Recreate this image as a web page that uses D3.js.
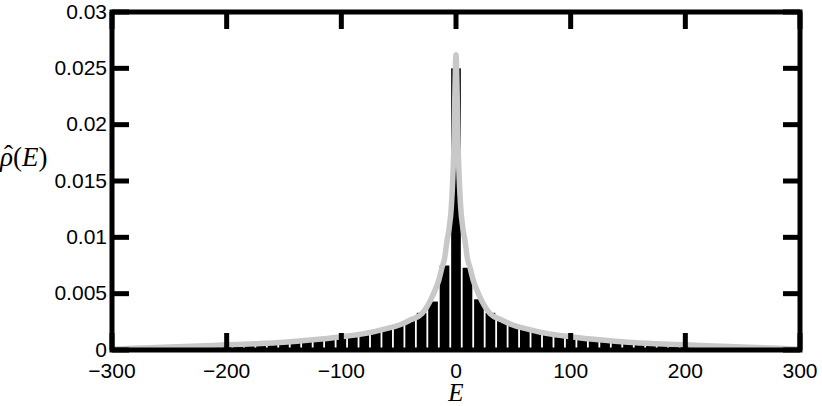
<!DOCTYPE html>
<html>
<head>
<meta charset="utf-8">
<script src="https://cdn.jsdelivr.net/npm/d3@7"></script>
<style>
  body { margin: 0; background: #fff; }
  svg { display: block; }
  .tick-label { font-family: "Liberation Sans", Arial, sans-serif; font-size: 21px; fill: #000; }
  .math { font-family: "Liberation Serif", "DejaVu Serif", serif; font-size: 27px; fill: #000; }
</style>
</head>
<body>
<div id="chart"></div>
<script>
// histogram bin centres (E) and heights rho
var binCenters = [-290,-280,-270,-260,-250,-240,-230,-220,-210,-200,-190,-180,-170,-160,-150,-140,-130,-120,-110,-100,
  -90,-80,-70,-60,-50,-40,-30,-20,-10,0,10,20,30,40,50,60,70,80,90,
  100,110,120,130,140,150,160,170,180,190,200,210,220,230,240,250,260,270,280,290];
var binHeights = [0.0001,0.00014,0.00018,0.00022,0.00026,0.0003,0.00034,0.00038,0.00042,0.00046,0.0005,0.00054,0.00059,0.00064,0.0007,0.00077,0.00086,0.00097,0.00108,0.00116,
  0.00128,0.00146,0.00166,0.00188,0.00218,0.00262,0.0033,0.0043,0.0075,0.0250,0.0073,0.0045,0.0033,0.00264,0.0022,0.0019,0.0017,0.00148,0.0013,
  0.00116,0.00108,0.00098,0.00087,0.00078,0.0007,0.00064,0.00059,0.00054,0.0005,0.00046,0.00042,0.00038,0.00034,0.0003,0.00026,0.00022,0.00018,0.00014,0.0001];

// fitted density curve
var curveE = [-300,-275,-250,-225,-200,-175,-150,-125,-100,-80,-60,-50,-40,-30,-25,-20,-15,-12,-10,-8,-6,-4,-2,0,
  2,4,6,8,10,12,15,20,25,30,40,50,60,80,100,125,150,175,200,225,250,275,300];
var curveRho = [0.00006,0.00017,0.00027,0.00036,0.00046,0.00055,0.00068,0.0009,0.00118,0.00145,0.00192,0.0022,0.00266,0.0032,0.0039,0.0049,0.0062,0.0074,0.0081,0.0096,0.0108,0.0128,0.0175,0.0262,
  0.0175,0.0128,0.0108,0.0096,0.0081,0.0074,0.0062,0.0049,0.0039,0.0032,0.00266,0.0022,0.00192,0.00145,0.00118,0.0009,0.00068,0.00055,0.00046,0.00036,0.00027,0.00017,0.00006];

var xTicks = [-300,-200,-100,0,100,200,300];
var xTickLabels = ['\u2212300','\u2212200','\u2212100','0','100','200','300'];
var yTicks = [0,0.005,0.01,0.015,0.02,0.025,0.03];
var yTickLabels = ['0','0.005','0.01','0.015','0.02','0.025','0.03'];

var binWidth = 10;
var W = 822, H = 406;
var plot = {left: 112, right: 800, top: 12, bottom: 350};
var tickLen = 17;

var x = d3.scaleLinear().domain([-300, 300]).range([plot.left, plot.right]);
var y = d3.scaleLinear().domain([0, 0.03]).range([plot.bottom, plot.top]);

var svg = d3.select('#chart').append('svg')
  .attr('width', W)
  .attr('height', H);

// bars
svg.append('g').selectAll('rect')
  .data(binCenters)
  .enter().append('rect')
  .attr('x', function(d) { return x(d - binWidth/2) + 0.9; })
  .attr('width', function(d) { return x(d + binWidth/2) - x(d - binWidth/2) - 1.8; })
  .attr('y', function(d, i) { return y(binHeights[i]); })
  .attr('height', function(d, i) { return y(0) - y(binHeights[i]); })
  .attr('fill', '#000');

// grey curve
var line = d3.line()
  .x(function(d) { return x(d); })
  .y(function(d, i) { return y(curveRho[i]); })
  .curve(d3.curveMonotoneX);

svg.append('path')
  .datum(curveE)
  .attr('d', line)
  .attr('fill', 'none')
  .attr('stroke', '#c8c8c8')
  .attr('stroke-width', 5.5)
  .attr('stroke-linejoin', 'round');

// inward ticks on all four sides
var tickG = svg.append('g').attr('stroke', '#000').attr('stroke-width', 5);
xTicks.forEach(function(t) {
  tickG.append('line').attr('x1', x(t)).attr('x2', x(t)).attr('y1', plot.bottom).attr('y2', plot.bottom - tickLen);
  tickG.append('line').attr('x1', x(t)).attr('x2', x(t)).attr('y1', plot.top).attr('y2', plot.top + tickLen);
});
yTicks.forEach(function(t) {
  tickG.append('line').attr('y1', y(t)).attr('y2', y(t)).attr('x1', plot.left).attr('x2', plot.left + tickLen);
  tickG.append('line').attr('y1', y(t)).attr('y2', y(t)).attr('x1', plot.right).attr('x2', plot.right - tickLen);
});

// frame
svg.append('rect')
  .attr('x', plot.left).attr('y', plot.top)
  .attr('width', plot.right - plot.left).attr('height', plot.bottom - plot.top)
  .attr('fill', 'none').attr('stroke', '#000').attr('stroke-width', 5);

// tick labels
svg.append('g').selectAll('text')
  .data(xTicks)
  .enter().append('text')
  .attr('class', 'tick-label')
  .attr('x', function(d) { return x(d); })
  .attr('y', 378)
  .attr('text-anchor', 'middle')
  .text(function(d, i) { return xTickLabels[i]; });

svg.append('g').selectAll('text')
  .data(yTicks)
  .enter().append('text')
  .attr('class', 'tick-label')
  .attr('x', 107)
  .attr('y', function(d) { return y(d) + 6.5; })
  .attr('text-anchor', 'end')
  .text(function(d, i) { return yTickLabels[i]; });

// axis titles
svg.append('text')
  .attr('class', 'math')
  .attr('x', 456)
  .attr('y', 401)
  .attr('text-anchor', 'middle')
  .style('font-size', '25px')
  .style('font-style', 'italic')
  .text('E');

var yl = svg.append('text')
  .attr('class', 'math')
  .attr('x', 0)
  .attr('y', 166);
yl.append('tspan').style('font-style', 'italic').text('\u03c1');
yl.append('tspan').text('(');
yl.append('tspan').style('font-style', 'italic').text('E');
yl.append('tspan').text(')');

// hat over rho
svg.append('text')
  .attr('class', 'math')
  .attr('x', 4)
  .attr('y', 164)
  .text('\u02c6');
</script>
</body>
</html>
